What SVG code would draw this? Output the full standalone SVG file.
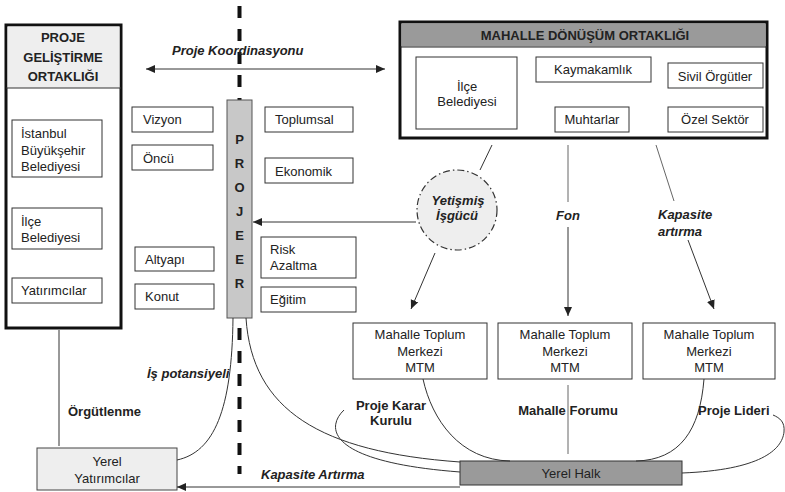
<svg xmlns="http://www.w3.org/2000/svg" width="785" height="492" viewBox="0 0 785 492">
  <style>
    text { font-family: "Liberation Sans", Arial, sans-serif; fill: #222; }
    .t { font-size: 13px; }
    .c { text-anchor: middle; }
    .b { font-weight: bold; font-size: 13px; }
    .bi { font-weight: bold; font-style: italic; font-size: 13px; }
    .box { fill: #fff; stroke: #333; stroke-width: 1; }
    .frame { fill: #fff; stroke: #111; stroke-width: 3; }
    .ln { fill: none; stroke: #333; stroke-width: 1; }
    .lg { fill: none; stroke: #666; stroke-width: 1; }
  </style>
  <defs>
    <marker id="ah" markerUnits="userSpaceOnUse" markerWidth="10" markerHeight="10" viewBox="0 0 10 10" refX="9" refY="5" orient="auto-start-reverse">
      <path d="M0,1 L9,5 L0,9 Z" fill="#222"/>
    </marker>
  </defs>

  <rect width="785" height="492" fill="#fff"/>

  <!-- centre axis -->
  <line x1="239.5" y1="6" x2="239.5" y2="474" stroke="#111" stroke-width="4" stroke-dasharray="12 11"/>

  <!-- Proje Geliştirme Ortaklığı -->
  <g id="pgo">
    <rect class="frame" x="6" y="25" width="115" height="303"/>
    <rect x="7.5" y="26.5" width="112" height="61.5" fill="#eeeeee"/>
    <line x1="6" y1="88" x2="121" y2="88" stroke="#333" stroke-width="1.2"/>
    <text class="b c" x="63" y="42">PROJE</text>
    <text class="b c" x="63" y="62">GELİŞTİRME</text>
    <text class="b c" x="63" y="81">ORTAKLIĞI</text>
  </g>
  <g id="ibb">
    <rect class="box" x="12" y="120" width="90" height="57"/>
    <text class="t" x="21" y="138">İstanbul</text>
    <text class="t" x="21" y="155">Büyükşehir</text>
    <text class="t" x="21" y="171">Belediyesi</text>
  </g>
  <g id="ilce-left">
    <rect class="box" x="12" y="208" width="90" height="41"/>
    <text class="t" x="21" y="226">İlçe</text>
    <text class="t" x="21" y="242">Belediyesi</text>
  </g>
  <g id="yatirimcilar">
    <rect class="box" x="12" y="278" width="90" height="25"/>
    <text class="t" x="21" y="295">Yatırımcılar</text>
  </g>

  <!-- themes left of the axis -->
  <g id="vizyon"><rect class="box" x="132" y="107" width="81" height="25"/><text class="t" x="143" y="124">Vizyon</text></g>
  <g id="oncu"><rect class="box" x="132" y="145" width="81" height="25"/><text class="t" x="143" y="163">Öncü</text></g>
  <g id="altyapi"><rect class="box" x="135" y="247" width="79" height="24"/><text class="t" x="145" y="264">Altyapı</text></g>
  <g id="konut"><rect class="box" x="135" y="284" width="79" height="25"/><text class="t" x="145" y="301">Konut</text></g>

  <!-- themes right of the axis -->
  <g id="toplumsal"><rect class="box" x="265" y="107" width="88" height="25"/><text class="t" x="275" y="124">Toplumsal</text></g>
  <g id="ekonomik"><rect class="box" x="265" y="158" width="88" height="25"/><text class="t" x="275" y="176">Ekonomik</text></g>
  <g id="risk"><rect class="box" x="261" y="237" width="95" height="41"/><text class="t" x="270" y="254">Risk</text><text class="t" x="270" y="270">Azaltma</text></g>
  <g id="egitim"><rect class="box" x="261" y="287" width="95" height="25"/><text class="t" x="270" y="304">Eğitim</text></g>

  <!-- Projeer bar -->
  <g id="projeer">
    <rect x="227" y="100" width="25" height="218" fill="#c8c8c8" stroke="#555" stroke-width="1"/>
    <text class="b c" x="239.5" y="144">P</text>
    <text class="b c" x="239.5" y="168">R</text>
    <text class="b c" x="239.5" y="192">O</text>
    <text class="b c" x="239.5" y="216">J</text>
    <text class="b c" x="239.5" y="240">E</text>
    <text class="b c" x="239.5" y="264">E</text>
    <text class="b c" x="239.5" y="288">R</text>
  </g>

  <!-- Mahalle Dönüşüm Ortaklığı -->
  <g id="mdo">
    <rect class="frame" x="400" y="22" width="367" height="116"/>
    <rect x="401.5" y="23.5" width="364" height="23" fill="#9a9a9a"/>
    <line x1="400" y1="47" x2="767" y2="47" stroke="#222" stroke-width="1.2"/>
    <text class="b c" x="585" y="40">MAHALLE DÖNÜŞÜM ORTAKLIĞI</text>
  </g>
  <g id="ilce-mdo"><rect class="box" x="416" y="57" width="101" height="72"/><text class="t c" x="467" y="91">İlçe</text><text class="t c" x="467" y="106">Belediyesi</text></g>
  <g id="kaymakamlik"><rect class="box" x="536" y="57" width="115" height="25"/><text class="t c" x="593" y="74">Kaymakamlık</text></g>
  <g id="sivil"><rect class="box" x="668" y="63" width="95" height="25"/><text class="t c" x="715" y="81">Sivil Örgütler</text></g>
  <g id="muhtarlar"><rect class="box" x="555" y="107" width="74" height="25"/><text class="t c" x="592" y="124">Muhtarlar</text></g>
  <g id="ozel"><rect class="box" x="668" y="107" width="95" height="25"/><text class="t c" x="715" y="124">Özel Sektör</text></g>

  <!-- Yetişmiş İşgücü -->
  <g id="isgucu">
    <circle cx="457" cy="210" r="40" fill="#eeeeee" stroke="#333" stroke-width="1.2" stroke-dasharray="7 3 1.5 3"/>
    <text class="bi c" x="458" y="205">Yetişmiş</text>
    <text class="bi c" x="457" y="220">İşgücü</text>
  </g>

  <!-- Mahalle Toplum Merkezleri -->
  <g id="mtm1"><rect class="box" x="353" y="323" width="134" height="56"/><text class="t c" x="420" y="339">Mahalle Toplum</text><text class="t c" x="420" y="356">Merkezi</text><text class="t c" x="420" y="372">MTM</text></g>
  <g id="mtm2"><rect class="box" x="498" y="323" width="134" height="56"/><text class="t c" x="565" y="339">Mahalle Toplum</text><text class="t c" x="565" y="356">Merkezi</text><text class="t c" x="565" y="372">MTM</text></g>
  <g id="mtm3"><rect class="box" x="643" y="323" width="132" height="56"/><text class="t c" x="709" y="339">Mahalle Toplum</text><text class="t c" x="709" y="356">Merkezi</text><text class="t c" x="709" y="372">MTM</text></g>

  <!-- local actors -->
  <g id="yerel-yatirimcilar">
    <rect x="37" y="448" width="140" height="42" fill="#eeeeee" stroke="#444" stroke-width="1"/>
    <text class="t c" x="107" y="466">Yerel</text>
    <text class="t c" x="107" y="483">Yatırımcılar</text>
  </g>
  <g id="yerel-halk">
    <rect x="460" y="461" width="222" height="24" fill="#9a9a9a" stroke="#333" stroke-width="1"/>
    <text class="t c" x="571" y="478">Yerel Halk</text>
  </g>

  <!-- connectors -->
  <g id="connectors">
    <line class="ln" x1="146" y1="69" x2="385" y2="69" marker-start="url(#ah)" marker-end="url(#ah)"/>
    <line class="ln" x1="416" y1="222" x2="253" y2="222" marker-end="url(#ah)"/>
    <line class="ln" x1="492" y1="145" x2="480" y2="170"/>
    <line class="ln" x1="435" y1="253" x2="411" y2="309" marker-end="url(#ah)"/>
    <line class="lg" x1="568" y1="145" x2="568" y2="202"/>
    <line class="ln" x1="568" y1="227" x2="568" y2="316" marker-end="url(#ah)"/>
    <line class="lg" x1="656" y1="145" x2="674" y2="201"/>
    <line class="ln" x1="688" y1="240" x2="714" y2="309" marker-end="url(#ah)"/>
    <line class="ln" x1="59" y1="330" x2="59" y2="446"/>
    <path class="ln" d="M177,460 C214,452 232,410 233,318"/>
    <path class="ln" d="M246,318 C252,410 320,452 460,462"/>
    <path class="ln" d="M344,410 C325,428 328,462 460,472"/>
    <path class="ln" d="M423,379 C432,420 460,460 510,461"/>
    <line class="lg" x1="568" y1="385" x2="568" y2="454"/>
    <path class="ln" d="M704,379 C700,430 680,460 636,461"/>
    <path class="ln" d="M682,473 C760,470 782,450 784,432 C785,422 780,418 773,415"/>
    <line class="ln" x1="460" y1="487" x2="177" y2="487" marker-end="url(#ah)"/>
  </g>

  <!-- connector labels -->
  <g id="labels">
    <text class="bi" x="172" y="55">Proje Koordinasyonu</text>
    <text class="bi c" x="568" y="220">Fon</text>
    <text class="bi" x="658" y="219">Kapasite</text>
    <text class="bi" x="658" y="236">artırma</text>
    <text class="bi" x="147" y="378">İş potansiyeli</text>
    <text class="b" x="68" y="416">Örgütlenme</text>
    <text class="b c" x="391" y="410">Proje Karar</text>
    <text class="b c" x="391" y="425">Kurulu</text>
    <text class="b c" x="568" y="415">Mahalle Forumu</text>
    <text class="b" x="698" y="415">Proje Lideri</text>
    <text class="bi" x="261" y="479">Kapasite Artırma</text>
  </g>
</svg>
